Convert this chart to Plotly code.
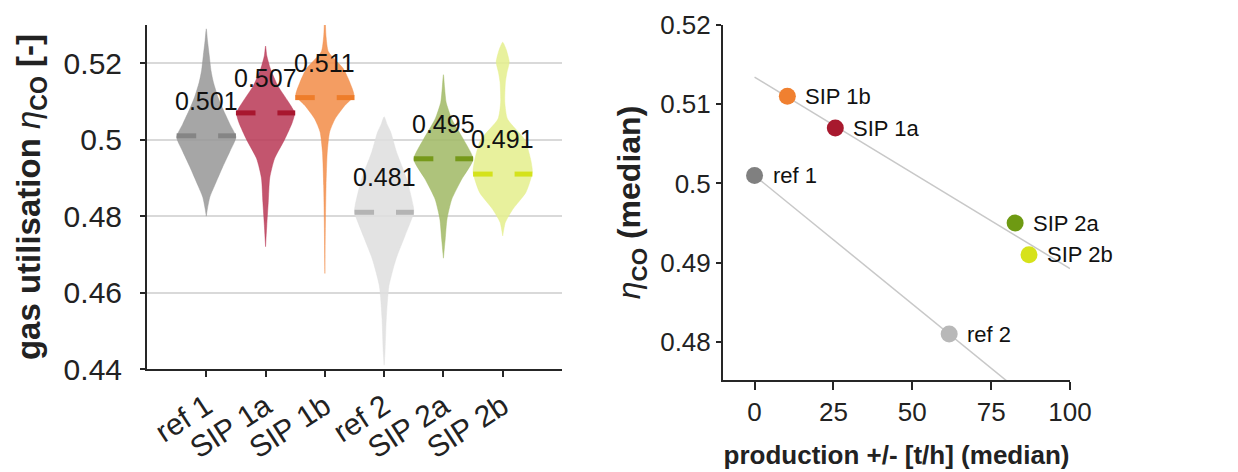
import numpy as np
import plotly.graph_objects as go

# ---- data -------------------------------------------------------------
groups = ["ref 1", "SIP 1a", "SIP 1b", "ref 2", "SIP 2a", "SIP 2b"]
medians = [0.501, 0.507, 0.511, 0.481, 0.495, 0.491]
production = [0.0, 25.6, 10.4, 61.7, 82.6, 87.0]

# violin outlines: eta levels and half-widths (category units)
ref1_levels = [0.529, 0.526, 0.522, 0.518, 0.515, 0.511, 0.508, 0.504, 0.5007, 0.497, 0.493, 0.488, 0.485, 0.482, 0.480]
ref1_widths = [0.0, 0.02, 0.05, 0.08, 0.12, 0.20, 0.28, 0.40, 0.50, 0.40, 0.28, 0.14, 0.06, 0.02, 0.0]
sip1a_levels = [0.5245, 0.522, 0.5186, 0.514, 0.510, 0.507, 0.5045, 0.500, 0.495, 0.490, 0.4836, 0.4775, 0.472]
sip1a_widths = [0.0, 0.02, 0.08, 0.21, 0.38, 0.49, 0.45, 0.32, 0.15, 0.07, 0.045, 0.02, 0.0]
sip1b_levels = [0.530, 0.527, 0.523, 0.5186, 0.515, 0.5115, 0.509, 0.5054, 0.502, 0.4967, 0.488, 0.479, 0.465]
sip1b_widths = [0.01, 0.02, 0.06, 0.31, 0.42, 0.49, 0.34, 0.17, 0.08, 0.04, 0.02, 0.01, 0.0]
ref2_levels = [0.506, 0.504, 0.502, 0.4967, 0.4897, 0.4827, 0.481, 0.4748, 0.4688, 0.4617, 0.453, 0.4444, 0.441]
ref2_widths = [0.0, 0.05, 0.11, 0.21, 0.38, 0.49, 0.50, 0.35, 0.20, 0.08, 0.035, 0.015, 0.0]
sip2a_levels = [0.517, 0.5135, 0.5098, 0.5054, 0.500, 0.4949, 0.4897, 0.4844, 0.4792, 0.474, 0.469]
sip2a_widths = [0.0, 0.02, 0.045, 0.14, 0.34, 0.50, 0.31, 0.14, 0.06, 0.03, 0.0]
sip2b_levels = [0.5255, 0.5235, 0.5203, 0.5175, 0.515, 0.5098, 0.5054, 0.500, 0.4949, 0.4915, 0.4862, 0.4818, 0.4784, 0.4748]
sip2b_widths = [0.0, 0.06, 0.11, 0.07, 0.045, 0.035, 0.08, 0.37, 0.47, 0.50, 0.39, 0.17, 0.045, 0.0]

levels = [ref1_levels, sip1a_levels, sip1b_levels, ref2_levels, sip2a_levels, sip2b_levels]
widths = [ref1_widths, sip1a_widths, sip1b_widths, ref2_widths, sip2a_widths, sip2b_widths]

# ---- styles -----------------------------------------------------------
body_colors = ["rgba(150,150,150,0.85)", "rgba(185,55,85,0.85)", "rgba(242,140,70,0.85)",
               "rgba(222,222,222,0.85)", "rgba(160,185,100,0.85)", "rgba(228,238,140,0.85)"]
median_colors = ["#858585", "#a8162e", "#ee7d2a", "#b4b4b4", "#76991a", "#d4e21c"]
point_colors = ["#808080", "#a8192e", "#f08030", "#b8b8b8", "#6e9a12", "#d6e21a"]
FONT = "Liberation Sans, Arial, sans-serif"
AX = "#262626"
TXT = "#222222"

fig = go.Figure()

# ---- left panel: violins ---------------------------------------------
for i, (lv, wd) in enumerate(zip(levels, widths)):
    c = i + 1
    lv = np.asarray(lv)
    wd = np.asarray(wd)
    xs = np.concatenate([c - wd, (c + wd)[::-1]])
    ys = np.concatenate([lv, lv[::-1]])
    fig.add_trace(go.Scatter(
        x=xs, y=ys, mode="lines", fill="toself", fillcolor=body_colors[i],
        line=dict(color=body_colors[i], width=0.5, shape="spline", smoothing=0.6),
        xaxis="x", yaxis="y", showlegend=False, hoverinfo="skip"))
    m = medians[i]
    fig.add_trace(go.Scatter(
        x=[c - 0.5, c - 0.17, None, c + 0.2, c + 0.5], y=[m, m, None, m, m],
        mode="lines", line=dict(color=median_colors[i], width=5),
        xaxis="x", yaxis="y", showlegend=False, hoverinfo="skip"))
    fig.add_annotation(x=c, y=m, xref="x", yref="y", text=f"{m:.3f}", showarrow=False,
                       yshift=35, font=dict(family=FONT, size=25, color="#111111"))

# ---- right panel: medians vs production ------------------------------
sip_idx = [1, 2, 4, 5]
ref_idx = [0, 3]
xfit = np.array([0.0, 100.0])
for idx in (sip_idx, ref_idx):
    px = np.array([production[k] for k in idx])
    py = np.array([medians[k] for k in idx])
    k, d = np.polyfit(px, py, 1)
    fig.add_trace(go.Scatter(x=xfit, y=k * xfit + d, mode="lines",
                             line=dict(color="#c8c8c8", width=1.5),
                             xaxis="x2", yaxis="y2", showlegend=False, hoverinfo="skip"))

fig.add_trace(go.Scatter(x=production, y=medians, mode="markers",
                         marker=dict(size=17, color=point_colors, line=dict(width=0)),
                         xaxis="x2", yaxis="y2", showlegend=False))
for i, g in enumerate(groups):
    fig.add_annotation(x=production[i], y=medians[i], xref="x2", yref="y2", text=g,
                       showarrow=False, xanchor="left", xshift=16,
                       font=dict(family=FONT, size=22, color="#111111"))

# ---- axes -------------------------------------------------------------
W, H = 1238, 472
common = dict(showline=True, linecolor=AX, linewidth=2, ticks="outside", tickcolor=AX,
              tickwidth=2, zeroline=False, mirror=False, automargin=False)

fig.update_layout(
    width=W, height=H, margin=dict(l=0, r=0, t=0, b=0, autoexpand=False),
    paper_bgcolor="white", plot_bgcolor="white",
    font=dict(family=FONT, color=TXT),
    xaxis=dict(domain=[147 / W, 562 / W], range=[0, 7], tickvals=[1, 2, 3, 4, 5, 6],
               ticktext=groups, tickangle=-33, ticklen=6, showgrid=False,
               tickfont=dict(size=30, family=FONT, color=TXT), anchor="y", **common),
    yaxis=dict(domain=[1 - 369 / H, 1 - 25 / H], range=[0.44, 0.53],
               tickvals=[0.44, 0.46, 0.48, 0.5, 0.52], ticktext=["0.44", "0.46", "0.48", "0.5", "0.52"],
               ticklen=5, ticklabelstandoff=12, showgrid=True, gridcolor="#d9d9d9", gridwidth=2,
               tickfont=dict(size=30, family=FONT, color=TXT), anchor="x",
               title=dict(text="<b>gas utilisation</b> <i>η</i><b><sub>CO</sub> [-]</b>",
                          font=dict(size=33, family=FONT, color=TXT), standoff=13),
               **common),
    xaxis2=dict(domain=[723 / W, 1070 / W], range=[-10, 100], tickvals=[0, 25, 50, 75, 100],
                ticklen=8, showgrid=False, anchor="y2",
                tickfont=dict(size=26, family=FONT, color=TXT),
                title=dict(text="<b>production +/- [t/h] (median)</b>",
                           font=dict(size=26, family=FONT, color=TXT), standoff=20),
                **common),
    yaxis2=dict(domain=[1 - 380 / H, 1 - 25 / H], range=[0.4752, 0.52],
                tickvals=[0.48, 0.49, 0.5, 0.51, 0.52], ticktext=["0.48", "0.49", "0.5", "0.51", "0.52"],
                ticklen=5, showgrid=False, anchor="x2",
                tickfont=dict(size=26, family=FONT, color=TXT),
                title=dict(text="<i>η</i><b><sub>CO</sub> (median)</b>",
                           font=dict(size=32, family=FONT, color=TXT), standoff=10),
                **common),
)

fig.write_html("out.html")
